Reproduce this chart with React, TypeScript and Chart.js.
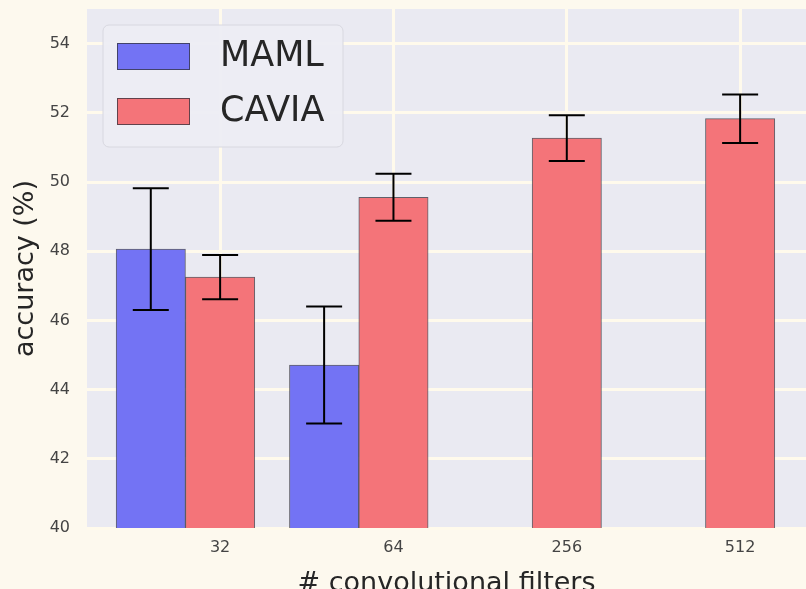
import React, { useEffect, useRef } from 'react';
import { Chart, registerables } from 'chart.js';

Chart.register(...registerables);

// ---- data ----
const categories = ['32', '64', '256', '512'];
const seriesNames = ['MAML', 'CAVIA'];
const mamlMean: (number | null)[] = [48.06, 44.71, null, null];
const mamlErr: (number | null)[] = [1.76, 1.69, null, null];
const caviaMean: number[] = [47.25, 49.56, 51.27, 51.83];
const caviaErr: number[] = [0.64, 0.68, 0.66, 0.7];
const yTicks = [40, 42, 44, 46, 48, 50, 52, 54];
const yMin = 40;
const yMax = 55;

// layout constants (not data)
const MAML_SHIFT = -0.4; // MAML bar sits one bar-width left of the tick
const X_MIN = -0.768;
const X_MAX = 3.38;

const COLORS = {
  page: '#FDF9EE',
  plot: '#EAEAF2',
  grid: '#FFFAEC',
  maml: '#7373F4',
  cavia: '#F47479',
  edge: 'rgba(50,50,60,0.75)',
  tick: '#444444',
  title: '#262626',
};

const FONT = "'DejaVu Sans', sans-serif";

export default function App() {
  const ref = useRef<HTMLCanvasElement | null>(null);

  useEffect(() => {
    document.body.style.margin = '0';
    const canvas = ref.current;
    if (!canvas) return;

    const mamlData = categories
      .map((_, i) => (mamlMean[i] == null ? null : { x: i + MAML_SHIFT, y: mamlMean[i] as number, e: mamlErr[i] }))
      .filter((d) => d !== null);
    const caviaData = categories.map((_, i) => ({ x: i, y: caviaMean[i], e: caviaErr[i] }));

    const bgPlugin = {
      id: 'bgPlugin',
      beforeDraw(chart: any) {
        const { ctx, chartArea } = chart;
        ctx.save();
        ctx.fillStyle = COLORS.page;
        ctx.fillRect(0, 0, chart.width, chart.height);
        ctx.fillStyle = COLORS.plot;
        ctx.fillRect(chartArea.left, chartArea.top, chartArea.right - chartArea.left, chartArea.bottom - chartArea.top);
        ctx.restore();
      },
    };

    const errPlugin = {
      id: 'errPlugin',
      afterDatasetsDraw(chart: any) {
        const { ctx } = chart;
        const ys = chart.scales.y;
        ctx.save();
        ctx.strokeStyle = '#000000';
        ctx.lineWidth = 2;
        chart.data.datasets.forEach((ds: any, di: number) => {
          const meta = chart.getDatasetMeta(di);
          meta.data.forEach((el: any, j: number) => {
            const d = ds.data[j];
            if (!d || d.e == null) return;
            const x = el.x;
            const yt = ys.getPixelForValue(d.y + d.e);
            const yb = ys.getPixelForValue(d.y - d.e);
            const cap = 18;
            ctx.beginPath();
            ctx.moveTo(x, yt);
            ctx.lineTo(x, yb);
            ctx.moveTo(x - cap, yt);
            ctx.lineTo(x + cap, yt);
            ctx.moveTo(x - cap, yb);
            ctx.lineTo(x + cap, yb);
            ctx.stroke();
          });
        });
        ctx.restore();
      },
    };

    const legendPlugin = {
      id: 'legendPlugin',
      afterDraw(chart: any) {
        const { ctx, chartArea } = chart;
        const bx = chartArea.left + 16;
        const by = chartArea.top + 16;
        const bw = 240;
        const bh = 122;
        ctx.save();
        ctx.beginPath();
        (ctx as any).roundRect(bx, by, bw, bh, 6);
        ctx.fillStyle = 'rgba(237,237,244,0.92)';
        ctx.fill();
        ctx.strokeStyle = '#D8D8E0';
        ctx.lineWidth = 1;
        ctx.stroke();
        const fills = [COLORS.maml, COLORS.cavia];
        seriesNames.forEach((name, i) => {
          const sx = bx + 14;
          const sy = by + 18 + i * 55;
          ctx.fillStyle = fills[i];
          ctx.fillRect(sx, sy, 73, 27);
          ctx.strokeStyle = COLORS.edge;
          ctx.lineWidth = 1;
          ctx.strokeRect(sx + 0.5, sy + 0.5, 72, 26);
          ctx.fillStyle = COLORS.title;
          ctx.font = `35px ${FONT}`;
          ctx.textBaseline = 'middle';
          ctx.textAlign = 'left';
          ctx.fillText(name, bx + 117, sy + 14);
        });
        ctx.restore();
      },
    };

    const chart = new Chart(canvas, {
      type: 'bar',
      data: {
        datasets: [
          {
            label: seriesNames[0],
            data: mamlData as any,
            backgroundColor: COLORS.maml,
            borderColor: COLORS.edge,
            borderWidth: 1,
          },
          {
            label: seriesNames[1],
            data: caviaData as any,
            backgroundColor: COLORS.cavia,
            borderColor: COLORS.edge,
            borderWidth: 1,
          },
        ],
      },
      options: {
        animation: false,
        responsive: false,
        maintainAspectRatio: false,
        grouped: false,
        barPercentage: 1,
        categoryPercentage: 1,
        layout: { padding: { top: 9, right: 0, left: 0, bottom: 0 } },
        plugins: { legend: { display: false }, tooltip: { enabled: false } },
        scales: {
          x: {
            type: 'linear',
            min: X_MIN,
            max: X_MAX,
            offset: false,
            border: { display: false },
            grid: { offset: false, color: COLORS.grid, lineWidth: 3, drawTicks: false },
            afterBuildTicks: (scale: any) => {
              scale.ticks = categories.map((_, i) => ({ value: i }));
            },
            afterFit: (scale: any) => {
              scale.height = 61;
              scale.paddingLeft = 0;
              scale.paddingRight = 0;
            },
            ticks: {
              padding: 10,
              color: COLORS.tick,
              font: { family: FONT, size: 16 },
              maxRotation: 0,
              autoSkip: false,
              callback: (v: any) => categories[Math.round(Number(v))] ?? '',
            },
            title: {
              display: true,
              text: '# convolutional filters',
              color: COLORS.title,
              font: { family: FONT, size: 27 },
              padding: { top: 0, bottom: -11 },
            },
          },
          y: {
            type: 'linear',
            min: yMin,
            max: yMax,
            border: { display: false },
            grid: { color: COLORS.grid, lineWidth: 3, drawTicks: false },
            afterBuildTicks: (scale: any) => {
              scale.ticks = yTicks.map((v) => ({ value: v }));
            },
            afterFit: (scale: any) => {
              scale.width = 87;
              scale.paddingTop = 0;
              scale.paddingBottom = 0;
            },
            ticks: {
              padding: 17,
              color: COLORS.tick,
              font: { family: FONT, size: 16 },
            },
            title: {
              display: true,
              text: 'accuracy (%)',
              color: COLORS.title,
              font: { family: FONT, size: 27 },
              padding: { top: 10, bottom: 0 },
            },
          },
        },
      } as any,
      plugins: [bgPlugin, errPlugin, legendPlugin],
    });

    return () => chart.destroy();
  }, []);

  return (
    <div style={{ position: 'fixed', left: 0, top: 0, width: 806, height: 589, background: COLORS.page }}>
      <canvas ref={ref} width={806} height={589} style={{ display: 'block' }} />
    </div>
  );
}
